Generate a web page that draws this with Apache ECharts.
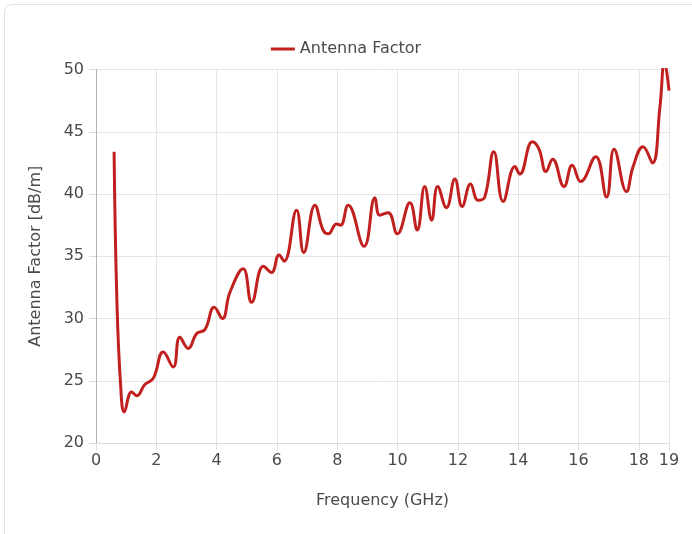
<!DOCTYPE html>
<html>
<head>
<meta charset="utf-8">
<script src="https://cdn.jsdelivr.net/npm/echarts@6/dist/echarts.min.js"></script>
<style>
html,body{margin:0;padding:0;background:#fff;overflow:hidden;}
#card{position:absolute;left:4px;top:4px;width:1000px;height:1000px;border:1px solid #e2e2e2;border-radius:8px;box-sizing:border-box;}
#chart{position:absolute;left:0;top:0;width:692px;height:534px;}
</style>
</head>
<body>
<div id="card"></div>
<div id="chart"></div>
<script>
var freqGHz = [0.6, 0.69, 0.82, 0.94, 1.18, 1.35, 1.62, 1.9, 2.23, 2.56, 2.78, 3.06, 3.34, 3.61, 3.92, 4.19, 4.44, 4.88, 5.16, 5.55, 5.82, 6.07, 6.24, 6.65, 6.89, 7.26, 7.53, 7.70, 7.98, 8.11, 8.36, 8.89, 9.25, 9.41, 9.69, 9.99, 10.41, 10.65, 10.90, 11.13, 11.33, 11.62, 11.90, 12.14, 12.42, 12.67, 12.89, 13.19, 13.50, 13.89, 14.05, 14.47, 14.69, 14.92, 15.14, 15.52, 15.79, 16.07, 16.57, 16.93, 17.18, 17.59, 17.81, 18.14, 18.45, 18.70, 18.85, 19.0];
var antennaFactor = [43.4, 31.7, 24.5, 22.5, 24.1, 23.8, 24.7, 25.2, 27.3, 26.1, 28.5, 27.6, 28.8, 29.1, 30.9, 30.0, 32.1, 34.0, 31.3, 34.2, 33.7, 35.1, 34.6, 38.7, 35.3, 39.1, 37.1, 36.8, 37.6, 37.5, 39.1, 35.8, 39.7, 38.3, 38.5, 36.8, 39.3, 37.1, 40.6, 37.9, 40.6, 38.9, 41.2, 39.0, 40.8, 39.5, 39.75, 43.4, 39.4, 42.2, 41.6, 44.2, 43.6, 41.8, 42.8, 40.6, 42.3, 41.0, 43.0, 39.75, 43.6, 40.2, 42.2, 43.8, 42.5, 47.0, 50.6, 48.3];
var seriesName = 'Antenna Factor';
var xAxisName = 'Frequency (GHz)';
var yAxisName = 'Antenna Factor [dB/m]';

var pts = freqGHz.map(function(f, i){ return [f, antennaFactor[i]]; });
var font = '"DejaVu Sans", sans-serif';
var txt = '#4a4a4a';
var chart = echarts.init(document.getElementById('chart'), null, {renderer:'canvas'});
chart.setOption({
  animation:false,
  textStyle:{fontFamily:font},
  legend:{
    top:36, left:'center',
    itemWidth:24, itemHeight:3, itemGap:6,
    textStyle:{fontSize:16, color:txt, fontFamily:font},
    data:[{name:seriesName, icon:'rect'}]
  },
  grid:{left:96, right:23, top:69.5, bottom:91, containLabel:false},
  xAxis:{
    type:'value', min:0, max:19, interval:2,
    name:xAxisName, nameLocation:'middle', nameGap:50,
    nameTextStyle:{fontSize:16, color:txt, fontFamily:font},
    axisLine:{show:true, lineStyle:{color:'#dcdcdc'}},
    axisTick:{show:true, length:7, lineStyle:{color:'#dcdcdc'}},
    axisLabel:{fontSize:16, color:txt, margin:10, fontFamily:font},
    splitLine:{show:true, lineStyle:{color:'#e4e4e4'}}
  },
  yAxis:{
    type:'value', min:20, max:50, interval:5,
    name:yAxisName, nameLocation:'middle', nameGap:52,
    nameTextStyle:{fontSize:16, color:txt, fontFamily:font},
    axisLine:{show:true, lineStyle:{color:'#b5b5b5'}},
    axisTick:{show:true, length:7, lineStyle:{color:'#dcdcdc'}},
    axisLabel:{fontSize:16, color:txt, margin:12, fontFamily:font},
    splitLine:{show:true, lineStyle:{color:'#e4e4e4'}}
  },
  series:[{
    name:seriesName, type:'line', data:pts,
    showSymbol:false, smooth:0.45, clip:true,
    lineStyle:{color:'#c0211f', width:3},
    itemStyle:{color:'#c0211f'}
  }]
});
</script>
</body>
</html>
